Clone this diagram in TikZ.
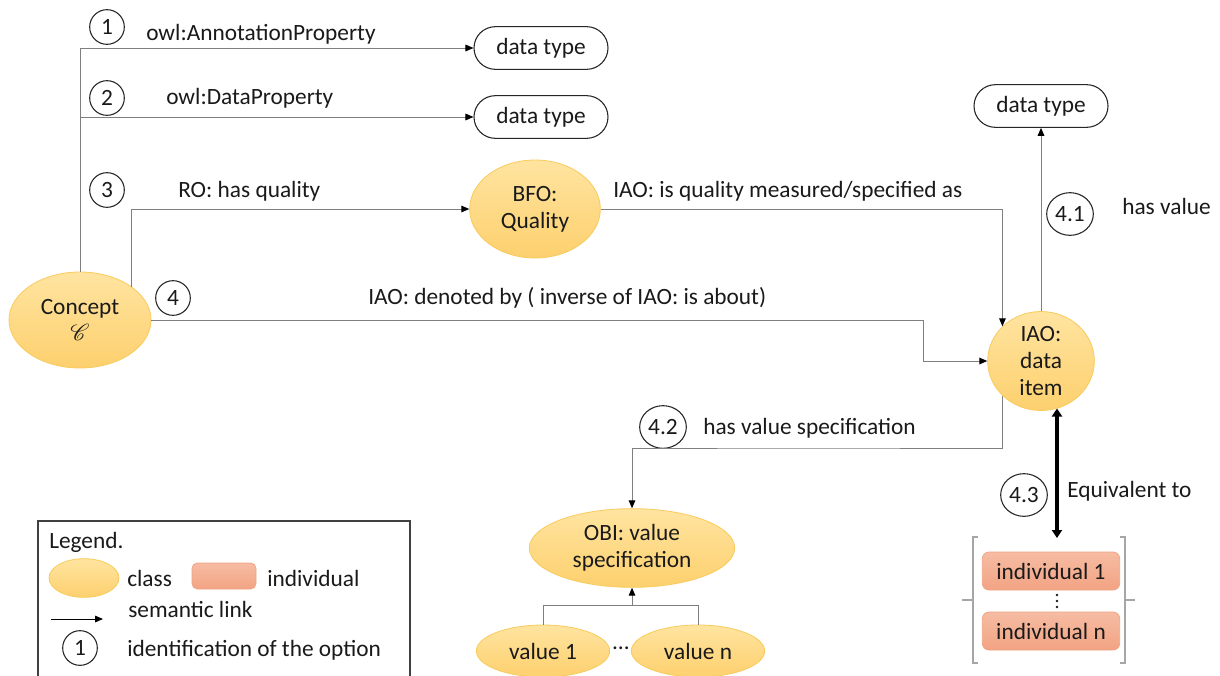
\documentclass[tikz,border=0pt]{standalone}
\usepackage{fontspec}
\setmainfont{Carlito}
\usepackage{mathrsfs}
\usetikzlibrary{arrows.meta,shapes.geometric,calc}
\definecolor{linegray}{HTML}{7F7F7F}
\definecolor{brkgray}{HTML}{A6A6A6}
\definecolor{clstop}{HTML}{FFE4A0}
\definecolor{clsbot}{HTML}{FDD06E}
\definecolor{clsborder}{HTML}{F8CB5C}
\definecolor{indtop}{HTML}{F6BCA3}
\definecolor{indbot}{HTML}{F2A383}
\definecolor{indborder}{HTML}{F0A585}
\definecolor{txt}{HTML}{1A1A1A}
\tikzset{
  base/.style={font=\fontsize{17.5}{21}\selectfont, text=txt},
  cls/.style={base, ellipse, draw=clsborder, line width=0.6pt, top color=clstop, bottom color=clsbot, align=center, inner sep=0pt},
  dtype/.style={base, draw=black!85, line width=0.8pt, rounded corners=16pt, minimum width=100.5pt, minimum height=32pt, inner sep=0pt},
  indiv/.style={base, draw=indborder, line width=0.6pt, top color=indtop, bottom color=indbot, rounded corners=5pt, minimum width=103pt, minimum height=28.5pt, inner sep=0pt},
  num/.style={base, circle, draw=black!85, line width=0.8pt, inner sep=0pt, minimum size=26pt},
  numw/.style={base, ellipse, draw=black!85, line width=0.8pt, inner sep=0pt, minimum width=35pt, minimum height=32pt},
  lbl/.style={base, anchor=west, inner sep=0pt},
  link/.style={draw=linegray, line width=0.75pt, -{Triangle[length=6pt,width=5pt,color=black]}},
  plain/.style={draw=linegray, line width=0.75pt},
  eqv/.style={draw=black, line width=3pt, {Triangle[length=6pt,width=7.5pt]}-{Triangle[length=6pt,width=7.5pt]}},
  brk/.style={draw=brkgray, line width=0.9pt},
  dotmark/.style={fill=txt}
}
\begin{document}
\begin{tikzpicture}[x=0.75pt,y=-0.75pt]
\useasboundingbox (0,0) rectangle (1220,675);
\fill[white] (0,0) rectangle (1220,675);

% class nodes
\node[cls, minimum width=106.5pt, minimum height=72pt] (concept) at (80,320) {Concept\\[-1pt]$\mathscr{C}$};
\node[cls, minimum width=98pt, minimum height=73.5pt] (bfo) at (535,209) {BFO:\\[-1pt]Quality};
\node[cls, minimum width=80pt, minimum height=73pt] (item) at (1041,361) {IAO:\\[-0.5pt]data\\[-0.5pt]item};
\node[cls, minimum width=154pt, minimum height=59pt] (obi) at (632,548) {OBI: value\\[-1pt]specification};
\node[cls, minimum width=100pt, minimum height=39pt] (v1) at (543,651) {value 1};
\node[cls, minimum width=100pt, minimum height=39pt] (vn) at (698,651) {value n};
\node[base, inner sep=0pt] (vdots) at (621,648) {…};

% data types
\node[dtype] (dt1) at (541,48) {data type};
\node[dtype] (dt2) at (541,117) {data type};
\node[dtype] (dt3) at (1041,106) {data type};

% individuals
\node[indiv] (ind1) at (1051,571) {individual 1};
\node[indiv] (indn) at (1051,631) {individual n};
\fill[dotmark] (1057,595) circle (1.1pt);
\fill[dotmark] (1057,601) circle (1.1pt);
\fill[dotmark] (1057,607) circle (1.1pt);

% numbered circles
\node[num] (c1) at (107,27) {1};
\node[num] (c2) at (107,98) {2};
\node[num] (c3) at (107,190) {3};
\node[num] (c4) at (173,298) {4};
\node[numw] (c41) at (1070,214) {4.1};
\node[numw] (c42) at (663,427) {4.2};
\node[numw] (c43) at (1024,495) {4.3};

% labels
\node[lbl] (l1) at (146,34) {owl:AnnotationProperty};
\node[lbl] (l2) at (166,98) {owl:DataProperty};
\node[lbl] (l3) at (178,191) {RO: has quality};
\node[lbl] (l3b) at (613,191) {IAO: is quality measured/specified as};
\node[lbl] (l4) at (368,298) {IAO: denoted by ( inverse of IAO: is about)};
\node[lbl] (l41) at (1122,206) {has value};
\node[lbl] (l42) at (703,428) {has value specification};
\node[lbl] (l43) at (1067,491) {Equivalent to};

% connectors
\draw[link] (concept.north) |- (dt1.west);
\draw[link] (concept.north) |- (dt2.west);
\draw[link] (concept.33) |- (bfo.west);
\draw[link] (bfo.east) -| (item.138);
\draw[link] (concept.east) -| (923,361) -- (item.west);
\draw[link] (item.north) -- (dt3.south);
\draw[link] (item.222) |- (800,448) -| (obi.north);
\coordinate (tj) at (632,605);
\draw[plain] (v1.north) |- (tj) -| (vn.north);
\draw[link] (tj) -- (obi.south);
\coordinate (eqB) at (1057,538);
\draw[eqv] (eqB |- item.289) -- (eqB);

% brackets
\draw[brk] (978,537) -- (973,537) -- (973,663) -- (978,663);
\draw[brk] (973,600) -- (962,600);
\draw[brk] (1120,537) -- (1125,537) -- (1125,663) -- (1120,663);
\draw[brk] (1125,600) -- (1135,600);

% legend
\draw[draw=black!75, line width=0.9pt] (38,680) -- (38,521) -- (410,521) -- (410,680);
\node[lbl] (lg) at (49,542) {Legend.};
\node[cls, minimum width=52.5pt, minimum height=29pt] (lgcls) at (84,578) {};
\node[lbl] (lgclst) at (127,578) {class};
\node[indiv, minimum width=48pt, minimum height=19.5pt, rounded corners=4pt] (lgind) at (224,576) {};
\node[lbl] (lgindt) at (267,578) {individual};
\coordinate (la1) at (51,619);
\coordinate (la2) at (103,619);
\draw[link, draw=black] (la1) -- (la2);
\node[lbl] (lglink) at (128,609) {semantic link};
\node[num] (lgnum) at (80,648) {1};
\node[lbl] (lgnumt) at (127,650) {identification of the option};
\end{tikzpicture}
\end{document}
